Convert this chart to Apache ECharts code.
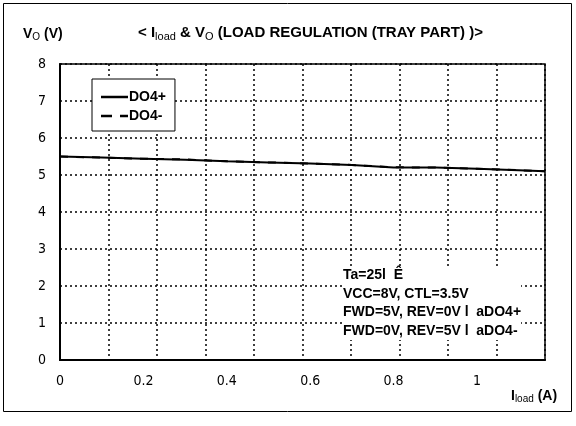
<!DOCTYPE html>
<html>
<head>
<meta charset="utf-8">
<script src="https://cdn.jsdelivr.net/npm/echarts@6/dist/echarts.min.js"></script>
<style>
  html, body { margin: 0; padding: 0; background: #fff; }
  #chart { width: 576px; height: 426px; }
</style>
</head>
<body>
<div id="chart"></div>
<script>
// load current (A) vs output voltage (V)
var loadCurrent = [0, 0.1, 0.2, 0.3, 0.4, 0.5, 0.6, 0.7, 0.8, 0.9, 1.0, 1.1, 1.163];
var do4Plus  = [5.5, 5.47, 5.44, 5.41, 5.37, 5.34, 5.31, 5.27, 5.2, 5.2, 5.17, 5.13, 5.1];
var do4Minus = [5.5, 5.47, 5.44, 5.42, 5.37, 5.34, 5.31, 5.27, 5.21, 5.2, 5.17, 5.13, 5.1];
var xTicks = [0, 0.2, 0.4, 0.6, 0.8, 1];
var yTicks = [0, 1, 2, 3, 4, 5, 6, 7, 8];
var notes = [
  'Ta=25l  Ê',
  'VCC=8V, CTL=3.5V',
  'FWD=5V, REV=0V l  aDO4+',
  'FWD=0V, REV=5V l  aDO4-'
];

var labelFont = '"Liberation Sans Narrow", "DejaVu Sans Condensed", sans-serif';
var boldFont = '"Liberation Sans", Arial, sans-serif';

function pairs(xs, ys) {
  return xs.map(function (x, i) { return [x, ys[i]]; });
}

// 标题/轴名 用的上下标样式
function richStyle(size, subSize, drop) {
  return {
    b: { fontFamily: boldFont, fontWeight: 'bold', fontSize: size, color: '#000' },
    s: { fontFamily: boldFont, fontWeight: 'normal', fontSize: subSize, color: '#000', padding: [drop, 0, 0, 0] }
  };
}

var myChart = echarts.init(document.getElementById('chart'));
var option = {
  backgroundColor: '#fff',
  animation: false,
  title: {
    text: '{b|< I}{s|load}{b| & V}{s|O}{b| (LOAD REGULATION (TRAY PART) )>}',
    left: 133,
    top: 18,
    textStyle: { rich: richStyle(15, 11, 8) }
  },
  legend: {
    orient: 'vertical',
    left: 92,
    top: 79,
    padding: [11, 9, 8, 9],
    itemGap: 5,
    itemWidth: 27,
    itemHeight: 14,
    borderColor: '#000',
    borderWidth: 1,
    borderRadius: 0,
    backgroundColor: '#fff',
    textStyle: { fontFamily: boldFont, fontWeight: 'bold', fontSize: 14, color: '#000', padding: [0, 0, 0, -4] },
    data: [
      { name: 'DO4+', icon: 'path://M0,0 L27,0 L27,2.5 L0,2.5 Z' },
      { name: 'DO4-', icon: 'path://M0,0 L11,0 L11,2.5 L0,2.5 Z M19,0 L27,0 L27,2.5 L19,2.5 Z' }
    ]
  },
  grid: {
    left: 60,
    top: 64,
    width: 485,
    height: 296,
    show: true,
    borderColor: '#000',
    borderWidth: 1.5,
    backgroundColor: 'transparent'
  },
  xAxis: [
    {
      type: 'value',
      min: 0,
      max: 1.163,
      interval: 0.2,
      axisLine: { show: true, onZero: false, lineStyle: { color: '#000', width: 2 } },
      axisTick: { show: false },
      splitLine: { show: false },
      axisLabel: {
        margin: 14,
        fontFamily: labelFont,
        fontSize: 14,
        color: '#000',
        formatter: function (v) {
          var r = +v.toFixed(1);
          return xTicks.indexOf(r) >= 0 ? String(r) : '';
        }
      }
    },
    {
      // 网格竖线（10等分）
      type: 'value',
      min: 0,
      max: 10,
      interval: 1,
      position: 'bottom',
      axisLine: { show: false },
      axisTick: { show: false },
      axisLabel: { show: false },
      splitLine: { show: true, lineStyle: { color: '#000', type: [2, 3], width: 1.5 } }
    }
  ],
  yAxis: {
    type: 'value',
    min: yTicks[0],
    max: yTicks[yTicks.length - 1],
    interval: 1,
    axisLine: { show: true, lineStyle: { color: '#000', width: 2 } },
    axisTick: { show: false },
    axisLabel: { margin: 14, fontFamily: labelFont, fontSize: 14, color: '#000' },
    splitLine: { show: true, lineStyle: { color: '#000', type: [2, 3], width: 1.5 } }
  },
  graphic: [
    {
      type: 'rect',
      shape: { x: 3.5, y: 3.5, width: 568, height: 408 },
      style: { fill: 'none', stroke: '#000', lineWidth: 1 },
      silent: true,
      z: 100
    },
    {
      type: 'text',
      left: 23,
      top: 27,
      style: {
        text: '{b|V}{s|O}{b| (V)}',
        rich: richStyle(14, 10, 7)
      }
    },
    {
      type: 'text',
      left: 511,
      top: 389,
      style: {
        text: '{b|I}{s|load}{b| (A)}',
        rich: richStyle(14, 10, 7)
      }
    },
    {
      type: 'text',
      left: 343,
      top: 266,
      style: {
        text: notes.join('\n'),
        fontFamily: boldFont,
        fontWeight: 'bold',
        fontSize: 14,
        lineHeight: 18.5,
        fill: '#000',
        backgroundColor: '#fff'
      },
      z: 50
    }
  ],
  series: [
    {
      name: 'DO4+',
      type: 'line',
      xAxisIndex: 0,
      symbol: 'none',
      lineStyle: { color: '#000', width: 2 },
      itemStyle: { color: '#000' },
      data: pairs(loadCurrent, do4Plus),
      z: 3
    },
    {
      name: 'DO4-',
      type: 'line',
      xAxisIndex: 0,
      symbol: 'none',
      lineStyle: { color: '#000', width: 2, type: [8, 8] },
      itemStyle: { color: '#000' },
      data: pairs(loadCurrent, do4Minus),
      z: 2
    }
  ]
};
myChart.setOption(option);
</script>
</body>
</html>
